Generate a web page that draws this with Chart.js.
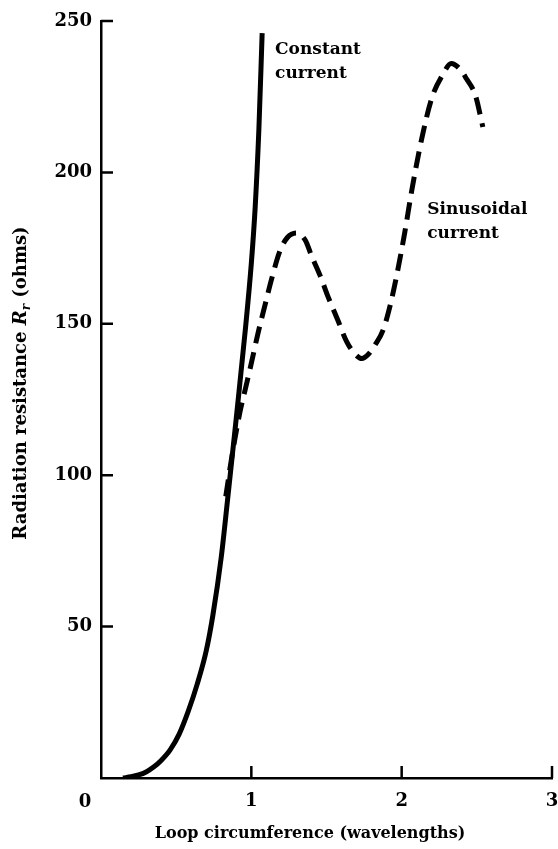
<!DOCTYPE html>
<html>
<head>
<meta charset="utf-8">
<script src="https://cdn.jsdelivr.net/npm/chart.js@4.4.0/dist/chart.umd.min.js"></script>
<style>
  html,body{margin:0;padding:0;background:#fff}
  canvas{display:block}
</style>
</head>
<body>
<canvas id="loopChart" width="558" height="849"></canvas>
<script>
// loop circumference (wavelengths) vs radiation resistance (ohms)
const constX = [0.146,0.2,0.25,0.3,0.35,0.4,0.46,0.52,0.58,0.64,0.70,0.745,0.8,0.84,0.9,0.96,1.0,1.025,1.05,1.072]
const constR = [0,0.4,1,2,3.6,5.8,9.3,14.5,22,31,42,54,73,91,119,148,170,188,214,246]

const sinX = [0.83,0.87,0.925,0.958,1.0,1.045,1.09,1.136,1.19,1.24,1.30,1.36,1.40,1.457,1.51,1.577,1.635,1.69,1.735,1.78,1.823,1.877,1.923,1.967,2.02,2.067,2.133,2.2,2.27,2.33,2.39,2.43,2.49,2.54]
const sinR = [93,106,121,128,137,147,156,165,174,178.5,180,177.5,172.5,166,159,151,144,140,138.5,140,143,148,156,166,180,194,211,224.5,232,236,234,231,225.5,215]

const xTicks = [0,1,2,3]
const yTicks = [50,100,150,200,250]

const curveLabels = [
  {lines:['Constant','current'], x:1.158, y:239},
  {lines:['Sinusoidal','current'], x:2.17, y:186.4}
]

const FONT = 'DejaVu Serif'
const pts = (xs, ys) => xs.map((x,i)=>({x, y:ys[i]}))

/* inward tick marks, curve labels and axis titles */
const decorations = {
  id:'decorations',
  afterDraw(chart){
    const {ctx, chartArea:area, scales:{x, y}} = chart
    ctx.save()
    ctx.strokeStyle = '#000'
    ctx.lineWidth = 2.5
    ctx.beginPath()
    yTicks.forEach(v=>{
      const py = y.getPixelForValue(v)
      ctx.moveTo(area.left, py); ctx.lineTo(area.left+12, py)
    })
    xTicks.filter(v=>v>0).forEach(v=>{
      const px = x.getPixelForValue(v)
      ctx.moveTo(px, area.bottom); ctx.lineTo(px, area.bottom-12)
    })
    ctx.stroke()

    ctx.fillStyle = '#000'
    // origin label sits left of the corner
    ctx.font = `bold 18px "${FONT}"`
    ctx.textAlign = 'center'
    ctx.textBaseline = 'middle'
    ctx.fillText('0', x.getPixelForValue(0)-16, 802)

    ctx.font = `bold 17px "${FONT}"`
    ctx.textAlign = 'left'
    ctx.textBaseline = 'alphabetic'
    curveLabels.forEach(l=>{
      const px = x.getPixelForValue(l.x), py = y.getPixelForValue(l.y)
      l.lines.forEach((t,i)=> ctx.fillText(t, px, py + i*24))
    })

    // x title
    ctx.textAlign = 'center'
    ctx.font = `bold 16px "${FONT}"`
    ctx.fillText('Loop circumference (wavelengths)', 310, 838)

    // y title, R with subscript r
    const parts = [
      {t:'Radiation resistance ', f:`bold 18px "${FONT}"`, dy:0},
      {t:'R', f:`italic bold 18px "${FONT}"`, dy:0},
      {t:'r', f:`italic bold 12px "${FONT}"`, dy:4},
      {t:' (ohms)', f:`bold 18px "${FONT}"`, dy:0}
    ]
    let total = 0
    parts.forEach(p=>{ ctx.font = p.f; p.w = ctx.measureText(p.t).width; total += p.w })
    ctx.translate(26, 383)
    ctx.rotate(-Math.PI/2)
    ctx.textAlign = 'left'
    let cx = -total/2
    parts.forEach(p=>{ ctx.font = p.f; ctx.fillText(p.t, cx, p.dy); cx += p.w })
    ctx.restore()
  }
}

new Chart(document.getElementById('loopChart').getContext('2d'), {
  type:'line',
  data:{
    datasets:[
      {data:pts(constX,constR), borderColor:'#000', borderWidth:5, pointRadius:0, cubicInterpolationMode:'monotone', fill:false},
      {data:pts(sinX,sinR), borderColor:'#000', borderWidth:5, borderDash:[17,9], pointRadius:0, cubicInterpolationMode:'monotone', fill:false}
    ]
  },
  options:{
    responsive:false,
    animation:false,
    events:[],
    layout:{padding:{top:21,right:6,left:0,bottom:0}},
    plugins:{legend:{display:false}, tooltip:{enabled:false}},
    scales:{
      x:{
        type:'linear', min:0, max:3,
        afterBuildTicks:s=>{ s.ticks = xTicks.map(v=>({value:v})) },
        afterFit:s=>{ s.height = 71; s.paddingLeft = 0; s.paddingRight = 0 },
        grid:{display:false, drawTicks:false},
        border:{display:true, color:'#000', width:2.5},
        ticks:{color:'#000', padding:13, maxRotation:0, autoSkip:false,
          font:{family:FONT, size:18, weight:'bold'},
          callback:v=> v===0 ? '' : String(v)}
      },
      y:{
        type:'linear', min:0, max:250,
        afterBuildTicks:s=>{ s.ticks = yTicks.map(v=>({value:v})) },
        afterFit:s=>{ s.width = 101; s.paddingTop = 0; s.paddingBottom = 0 },
        grid:{display:false, drawTicks:false},
        border:{display:true, color:'#000', width:2.5},
        ticks:{color:'#000', padding:9, autoSkip:false,
          font:{family:FONT, size:18, weight:'bold'}}
      }
    }
  },
  plugins:[decorations]
})
</script>
</body>
</html>
